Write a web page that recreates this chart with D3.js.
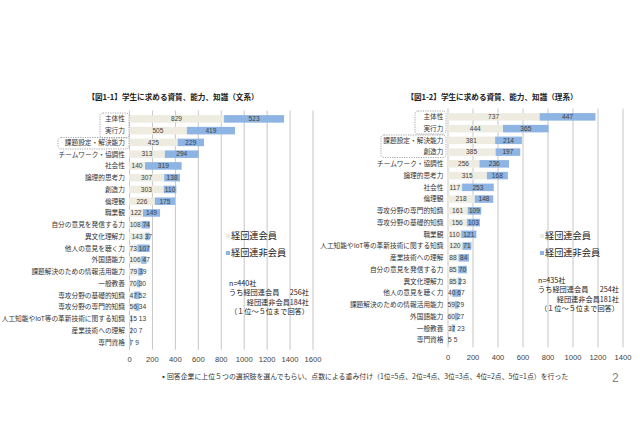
<!DOCTYPE html>
<html>
<head>
<meta charset="utf-8">
<script src="https://cdn.jsdelivr.net/npm/d3@7"></script>
<style>
  body { margin: 0; background: #fff; }
  svg { display: block; font-family: "Noto Sans CJK JP", "Noto Sans", sans-serif; }
</style>
</head>
<body>
<svg id="chart" width="640" height="437"></svg>
<script>
// 図1-1 文系
var bunCats = ["主体性", "実行力", "課題設定・解決能力", "チームワーク・協調性", "社会性", "論理的思考力", "創造力", "倫理観", "職業観", "自分の意見を発信する力", "異文化理解力", "他人の意見を聴く力", "外国語能力", "課題解決のための情報活用能力", "一般教養", "専攻分野の基礎的知識", "専攻分野の専門的知識", "人工知能やIoT等の革新技術に関する知識", "産業技術への理解", "専門資格"];
var bunMember = [829, 505, 425, 313, 140, 307, 303, 226, 122, 108, 143, 73, 106, 79, 70, 47, 56, 15, 20, 7];
var bunNonMember = [523, 419, 229, 294, 319, 138, 110, 175, 149, 74, 37, 107, 47, 39, 30, 52, 34, 13, 7, 9];
var bunTicks = [0, 200, 400, 600, 800, 1000, 1200, 1400, 1600];

// 図1-2 理系
var riCats = ["主体性", "実行力", "課題設定・解決能力", "創造力", "チームワーク・協調性", "論理的思考力", "社会性", "倫理観", "専攻分野の専門的知識", "専攻分野の基礎的知識", "職業観", "人工知能やIoT等の革新技術に関する知識", "産業技術への理解", "自分の意見を発信する力", "異文化理解力", "他人の意見を聴く力", "課題解決のための情報活用能力", "外国語能力", "一般教養", "専門資格"];
var riMember = [737, 444, 381, 385, 256, 315, 117, 218, 161, 156, 110, 120, 88, 85, 85, 40, 59, 60, 37, 5];
var riNonMember = [447, 365, 214, 197, 236, 168, 253, 148, 109, 103, 121, 71, 84, 70, 23, 67, 29, 27, 23, 5];
var riTicks = [0, 200, 400, 600, 800, 1000, 1200, 1400];

var seriesNames = ["経団連会員", "経団連非会員"];
var colors = ["#eeece1", "#8db4e2"];

var svg = d3.select("#chart");

function panel(o) {
  var x = d3.scaleLinear().domain([0, o.ticks[o.ticks.length - 1]]).range([o.x0, o.x1]);
  var y = d3.scaleBand().domain(o.cats).range([o.y0, o.y1]).paddingInner(0.36).paddingOuter(0.18);
  var g = svg.append("g");

  // title
  g.append("text")
    .attr("x", o.titleX).attr("y", o.titleY)
    .attr("text-anchor", "middle")
    .attr("font-size", 7.6).attr("font-weight", "bold").attr("fill", "#222")
    .text(o.title);

  // gridlines
  var grid = g.append("g")
    .attr("transform", "translate(0," + (o.y1 + 1.5) + ")")
    .call(d3.axisBottom(x).tickValues(o.ticks).tickSize(-(o.y1 - o.y0 + 4)).tickFormat(""));
  grid.select(".domain").remove();
  grid.selectAll(".tick line").attr("stroke", "#c6c6c6").attr("stroke-width", 1);

  // tick labels
  var ax = g.append("g")
    .attr("transform", "translate(0," + (o.y1 + 1.5) + ")")
    .call(d3.axisBottom(x).tickValues(o.ticks).tickSize(0).tickPadding(7).tickFormat(d3.format("d")));
  ax.select(".domain").remove();
  ax.selectAll("text").attr("font-size", 7.6).attr("fill", "#404040")
    .attr("font-family", "'Liberation Sans', Arial, sans-serif");

  // category labels
  g.selectAll(".cat").data(o.cats).enter().append("text")
    .attr("x", o.x0 - 4)
    .attr("y", function (d) { return y(d) + y.bandwidth() / 2; })
    .attr("dy", "0.35em")
    .attr("text-anchor", "end")
    .attr("font-size", 6.7).attr("fill", "#333")
    .text(function (d) { return d; });

  // bars
  var rows = o.cats.map(function (c, i) { return { cat: c, a: o.member[i], b: o.nonMember[i] }; });
  var bars = g.selectAll(".row").data(rows).enter().append("g");
  bars.append("rect")
    .attr("x", x(0))
    .attr("y", function (d) { return y(d.cat); })
    .attr("width", function (d) { return x(d.a) - x(0); })
    .attr("height", y.bandwidth())
    .attr("fill", colors[0]);
  bars.append("rect")
    .attr("x", function (d) { return x(d.a); })
    .attr("y", function (d) { return y(d.cat); })
    .attr("width", function (d) { return x(d.a + d.b) - x(d.a); })
    .attr("height", y.bandwidth())
    .attr("fill", colors[1]);

  // value labels, nudged apart where segments are too small
  bars.each(function (d) {
    var row = d3.select(this);
    var cy = y(d.cat) + y.bandwidth() / 2;
    var ta = row.append("text").attr("x", (x(0) + x(d.a)) / 2).attr("y", cy).attr("dy", "0.35em")
      .attr("text-anchor", "middle").attr("font-size", 6.6).attr("fill", "#404040")
      .attr("font-family", "'Liberation Sans', Arial, sans-serif").text(d.a);
    var wa = ta.node().getComputedTextLength();
    var ax0 = (x(0) + x(d.a)) / 2;
    if (ax0 - wa / 2 < x(0)) { ax0 = x(0) + wa / 2 + 0.5; ta.attr("x", ax0); }
    var tb = row.append("text").attr("y", cy).attr("dy", "0.35em")
      .attr("text-anchor", "middle").attr("font-size", 6.6).attr("fill", "#404040")
      .attr("font-family", "'Liberation Sans', Arial, sans-serif").text(d.b);
    var wb = tb.node().getComputedTextLength();
    var bx = (x(d.a) + x(d.a + d.b)) / 2;
    var minX = ax0 + wa / 2 + 2 + wb / 2;
    if (bx < minX && x(d.a + d.b) - x(d.a) < wb + 2) bx = minX;
    tb.attr("x", bx);
  });

  // dashed boxes around highlighted labels
  o.boxes.forEach(function (b) {
    g.append("rect")
      .attr("x", b[0]).attr("y", b[1]).attr("width", b[2]).attr("height", b[3])
      .attr("rx", 3).attr("fill", "none")
      .attr("stroke", "#7f7f7f").attr("stroke-width", 0.7).attr("stroke-dasharray", "1.2,1.2");
  });

  // legend
  seriesNames.forEach(function (s, i) {
    var ly = o.legY + i * 17;
    g.append("rect").attr("x", o.legX).attr("y", ly - 2).attr("width", 4).attr("height", 4).attr("fill", colors[i]);
    g.append("text").attr("x", o.legX + 5).attr("y", ly).attr("dy", "0.35em")
      .attr("font-size", 9.2).attr("fill", "#222").text(s);
  });

  // sample note
  var nt = g.append("g").attr("font-size", 7.2).attr("fill", "#222");
  nt.append("text").attr("x", o.noteX).attr("y", o.noteY).text(o.n);
  nt.append("text").attr("x", o.noteX).attr("y", o.noteY + 9.4).text("うち経団連会員");
  nt.append("text").attr("x", o.noteR).attr("y", o.noteY + 9.4).attr("text-anchor", "end").text(o.nMem);
  nt.append("text").attr("x", o.noteR).attr("y", o.noteY + 18.8).attr("text-anchor", "end").text("経団連非会員" + o.nNon);
  nt.append("text").attr("x", o.noteR).attr("y", o.noteY + 28.2).attr("text-anchor", "end").text("（１位～５位まで回答）");
}

panel({
  title: "【図1-1】学生に求める資質、能力、知識（文系）",
  titleX: 173, titleY: 100,
  cats: bunCats, member: bunMember, nonMember: bunNonMember, ticks: bunTicks,
  x0: 129, x1: 312.5, y0: 113, y1: 348.2,
  boxes: [[100, 113, 29, 25], [58, 137.5, 71, 11.5]],
  legX: 226, legY: 236,
  noteX: 229, noteR: 309, noteY: 286,
  n: "n=440社", nMem: "256社", nNon: "184社"
});

panel({
  title: "【図1-2】学生に求める資質、能力、知識（理系）",
  titleX: 492, titleY: 100,
  cats: riCats, member: riMember, nonMember: riNonMember, ticks: riTicks,
  x0: 447.5, x1: 622.5, y0: 111, y1: 345.9,
  boxes: [[415, 111, 31, 23], [381, 135, 65, 22.5]],
  legX: 540, legY: 236,
  noteX: 538, noteR: 619, noteY: 283,
  n: "n=435社", nMem: "254社", nNon: "181社"
});

// footnote
svg.append("text")
  .attr("x", 160).attr("y", 379)
  .attr("font-size", 6.9).attr("fill", "#333")
  .text("▪回答企業に上位５つの選択肢を選んでもらい、点数による重み付け（1位=5点、2位=4点、3位=3点、4位=2点、5位=1点）を行った");

// page number
svg.append("text")
  .attr("x", 612).attr("y", 382)
  .attr("font-size", 12).attr("fill", "#7f7f7f")
  .attr("font-family", "'Liberation Sans', Arial, sans-serif")
  .text("2");
</script>
</body>
</html>
